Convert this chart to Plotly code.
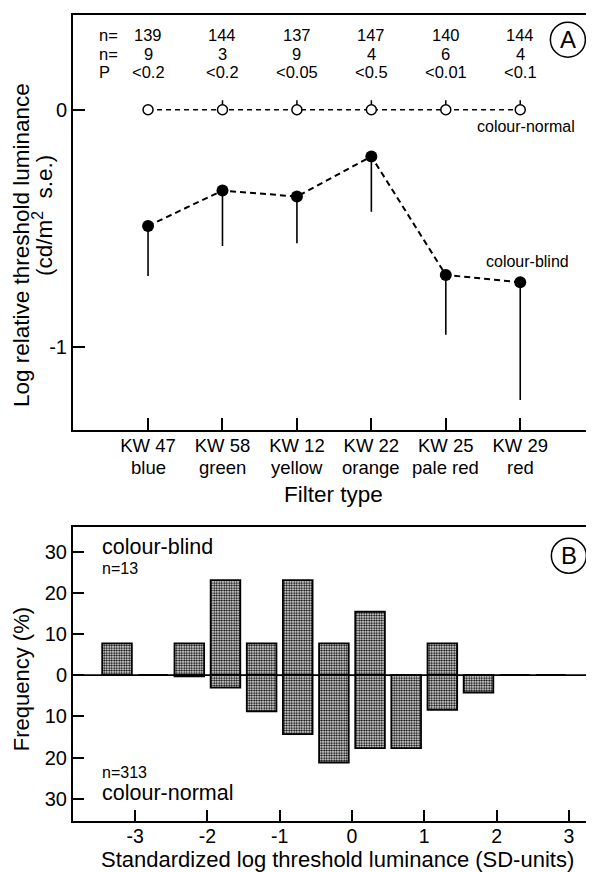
import plotly.graph_objects as go

# ---------------- data: panel A ----------------
filters = ["KW 47", "KW 58", "KW 12", "KW 22", "KW 25", "KW 29"]
colours = ["blue", "green", "yellow", "orange", "pale red", "red"]
normal_vals = [0, 0, 0, 0, 0, 0]
normal_se = [0.0, 0.04, 0.04, 0.04, 0.04, 0.04]
blind_vals = [-0.49, -0.341, -0.366, -0.197, -0.697, -0.728]
blind_se = [0.211, 0.234, 0.197, 0.233, 0.252, 0.497]
n_normal = ["139", "144", "137", "147", "140", "144"]
n_blind = ["9", "3", "9", "4", "6", "4"]
p_vals = ["<0.2", "<0.2", "<0.05", "<0.5", "<0.01", "<0.1"]

# ---------------- data: panel B ----------------
bin_centers = [-3.25, -2.75, -2.25, -1.75, -1.25, -0.75, -0.25, 0.25, 0.75, 1.25, 1.75, 2.25, 2.75]
freq_blind = [7.7, 0, 7.7, 23.1, 7.7, 23.1, 7.7, 15.4, 0, 7.7, 0, 0, 0]
freq_normal = [0, 0, 0.3, 3.0, 8.8, 14.3, 21.2, 17.7, 17.7, 8.4, 4.2, 0, 0]
xb_ticks = [-3, -2, -1, 0, 1, 2, 3]
yb_ticks = [-30, -20, -10, 0, 10, 20, 30]
yb_text = ["30", "20", "10", "0", "10", "20", "30"]

FONT = "Liberation Sans, Arial, Helvetica, sans-serif"
OFF = 8  # page body margin of the html page
W, H = 594 - OFF, 872 - OFF
ML, MR, MT = 73 - OFF, 2, 15 - OFF
MB = H - (820.7 - OFF)
PW, PH = W - ML - MR, H - MT - MB


def px(x):
    return (x - OFF - ML) / PW


def py(y):
    return (H - MB - (y - OFF)) / PH


def f(size):
    return dict(size=size, family=FONT, color="black")


def pa(xp, yp, text, size, **kw):
    d = dict(x=px(xp), y=py(yp), xref="paper", yref="paper", text=text, showarrow=False,
             xanchor="center", yanchor="middle", font=f(size))
    d.update(kw)
    return d


idx = list(range(len(filters)))

fig = go.Figure()

# colour-normal
fig.add_trace(go.Scatter(
    x=idx, y=normal_vals, mode="lines+markers",
    line=dict(color="black", width=1.5, dash="5px,4px"),
    marker=dict(symbol="circle", size=10, color="white", line=dict(color="black", width=1.5)),
    error_y=dict(type="data", symmetric=False, array=normal_se, arrayminus=[0] * 6,
                 width=0, thickness=1.5, color="black"),
    xaxis="x", yaxis="y", showlegend=False))

# colour-blind
fig.add_trace(go.Scatter(
    x=idx, y=blind_vals, mode="lines+markers",
    line=dict(color="black", width=2, dash="6px,4px"),
    marker=dict(symbol="circle", size=12, color="black"),
    error_y=dict(type="data", symmetric=False, array=[0] * 6, arrayminus=blind_se,
                 width=0, thickness=1.6, color="black"),
    xaxis="x", yaxis="y", showlegend=False))

# panel B bars (fine black/white checker fill)
pattern = dict(shape=".", fgcolor="black", bgcolor="white", size=2.5, solidity=0.5)
for vals in (freq_blind, [-v for v in freq_normal]):
    fig.add_trace(go.Bar(
        x=bin_centers, y=vals, width=0.41,
        marker=dict(color="#999999", pattern=pattern, line=dict(color="black", width=1.8)),
        xaxis="x2", yaxis="y2", showlegend=False))

annotations = []
# top rows in panel A
for i in idx:
    for yy, txt in [(35, n_normal[i]), (54, n_blind[i]), (72, p_vals[i])]:
        annotations.append(dict(x=i, y=py(yy), xref="x", yref="paper", text=txt,
                                showarrow=False, xanchor="center", yanchor="middle",
                                font=f(16.5)))
for yy, lab in [(35, "n="), (54, "n="), (72, "P")]:
    annotations.append(dict(x=-0.69, y=py(yy), xref="x", yref="paper", text=lab,
                            showarrow=False, xanchor="left", yanchor="middle", font=f(16.5)))

# second line of category labels
for i in idx:
    annotations.append(dict(x=i, y=py(467.5), xref="x", yref="paper", text=colours[i],
                            showarrow=False, xanchor="center", yanchor="middle", font=f(18.5)))

annotations += [
    dict(x=5.08, y=-0.072, xref="x", yref="y", text="colour-normal", showarrow=False, font=f(16)),
    dict(x=5.1, y=-0.641, xref="x", yref="y", text="colour-blind", showarrow=False, font=f(16)),
    dict(x=5.64, y=0.296, xref="x", yref="y", text="A", showarrow=False, font=f(24)),
    # axis titles
    pa(21, 245, "Log relative threshold luminance", 22.5, textangle=-90),
    pa(43, 216, "(cd/m<sup>2</sup>  s.e.)", 22.5, textangle=-90),
    pa(333, 494, "Filter type", 22.5),
    pa(21, 679, "Frequency (%)", 22, textangle=-90),
    pa(337, 859.5, "Standardized log threshold luminance (SD-units)", 22),
    # panel B texts
    dict(x=-3.485, y=31.1, xref="x2", yref="y2", text="colour-blind", showarrow=False,
         xanchor="left", font=f(21.5)),
    dict(x=-3.485, y=26.0, xref="x2", yref="y2", text="n=13", showarrow=False,
         xanchor="left", font=f(16)),
    dict(x=-3.485, y=-23.7, xref="x2", yref="y2", text="n=313", showarrow=False,
         xanchor="left", font=f(16)),
    dict(x=-3.485, y=-28.6, xref="x2", yref="y2", text="colour-normal", showarrow=False,
         xanchor="left", font=f(21.5)),
    dict(x=3.0, y=29.0, xref="x2", yref="y2", text="B", showarrow=False, font=f(24)),
]

shapes = [
    dict(type="circle", xref="x", yref="y", xsizemode="pixel", ysizemode="pixel",
         xanchor=5.64, yanchor=0.296, x0=-17.5, x1=17.5, y0=-17.5, y1=17.5,
         line=dict(color="black", width=1.5)),
    dict(type="circle", xref="x2", yref="y2", xsizemode="pixel", ysizemode="pixel",
         xanchor=3.0, yanchor=29.0, x0=-17.5, x1=17.5, y0=-17.5, y1=17.5,
         line=dict(color="black", width=1.5)),
    dict(type="line", xref="x2 domain", yref="y2", x0=0, x1=1, y0=0, y1=0,
         line=dict(color="black", width=1.8), layer="above"),
]

axis_common = dict(showline=True, linecolor="black", linewidth=2, mirror=True,
                   ticks="inside", tickcolor="black", tickwidth=1.8, showgrid=False,
                   zeroline=False, automargin=False, tickfont=f(20))

fig.update_layout(
    template="none",
    width=W, height=H,
    margin=dict(l=ML, r=MR, t=MT, b=MB, autoexpand=False),
    paper_bgcolor="white", plot_bgcolor="white",
    font=dict(family=FONT, color="black"),
    barmode="overlay",
    xaxis=dict(axis_common, domain=[0, 1], range=[-1.008, 5.964], tickvals=idx,
               ticktext=filters, ticklen=12, tickfont=f(18.5), ticklabelstandoff=-2,
               anchor="y"),
    yaxis=dict(axis_common, domain=[py(430), 1.0], range=[-1.352, 0.40], tickvals=[0, -1],
               ticktext=["0", "-1"], ticklen=12, anchor="x"),
    xaxis2=dict(axis_common, domain=[0, 1], range=[-3.859, 3.32], tickvals=xb_ticks,
                ticktext=[str(v) for v in xb_ticks], ticklen=11, tickfont=f(19.5),
                ticklabelstandoff=-3, anchor="y2"),
    yaxis2=dict(axis_common, domain=[0.0, py(526.7)], range=[-35.4, 36.0], tickvals=yb_ticks,
                ticktext=yb_text, ticklen=11, anchor="x2"),
    annotations=annotations,
    shapes=shapes,
)

fig.write_html("out.html")
